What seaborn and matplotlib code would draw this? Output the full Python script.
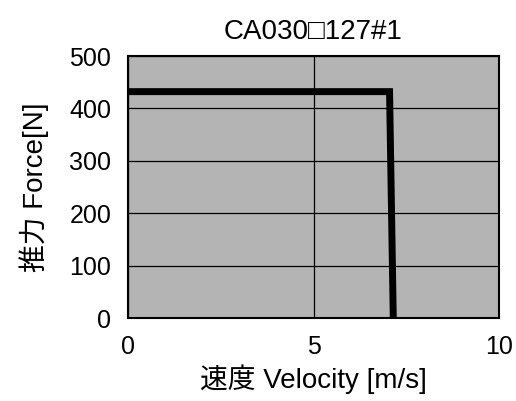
import matplotlib
matplotlib.use("Agg")
import matplotlib.pyplot as plt
import seaborn as sns
import pandas as pd

velocity = [0.0, 7.05, 7.15]
force = [432, 432, 0]
x_ticks = [0, 5, 10]
y_ticks = [0, 100, 200, 300, 400, 500]

sns.set_style("ticks")
plt.rcParams['font.family'] = ['Liberation Sans', 'Noto Sans CJK JP', 'DejaVu Sans']
plt.rcParams['text.color'] = 'black'
plt.rcParams['axes.labelcolor'] = 'black'
plt.rcParams['xtick.color'] = 'black'
plt.rcParams['ytick.color'] = 'black'

fig = plt.figure(figsize=(5.16, 4.01), dpi=100)
ax = fig.add_axes([128/516, 1-318/401, 371/516, 262/401])
ax.set_facecolor('#b4b4b5')

df = pd.DataFrame({'v': velocity, 'f': force})
ax.set_xlim(0, 10)
ax.set_ylim(0, 500)
ax.set_xticks(x_ticks)
ax.set_yticks(y_ticks)
ax.grid(True, color='black', linewidth=0.9)
ax.set_axisbelow(True)
sns.lineplot(data=df, x='v', y='f', ax=ax, color='black', linewidth=5, sort=False,
             solid_joinstyle='miter')
ax.tick_params(length=0, labelsize=18, pad=12, colors='black')
for s in ax.spines.values():
    s.set_color('black')
    s.set_linewidth(1.5)
ax.set_xlabel('速度 Velocity [m/s]', fontsize=20, labelpad=4, color='black')
ax.set_ylabel('推力 Force[N]', fontsize=20, labelpad=15, color='black')
ax.set_title('CA030□127#1', fontsize=20, pad=12, color='black',
             family=['Liberation Sans', 'DejaVu Sans'])
fig.savefig('out.png', dpi=100)
